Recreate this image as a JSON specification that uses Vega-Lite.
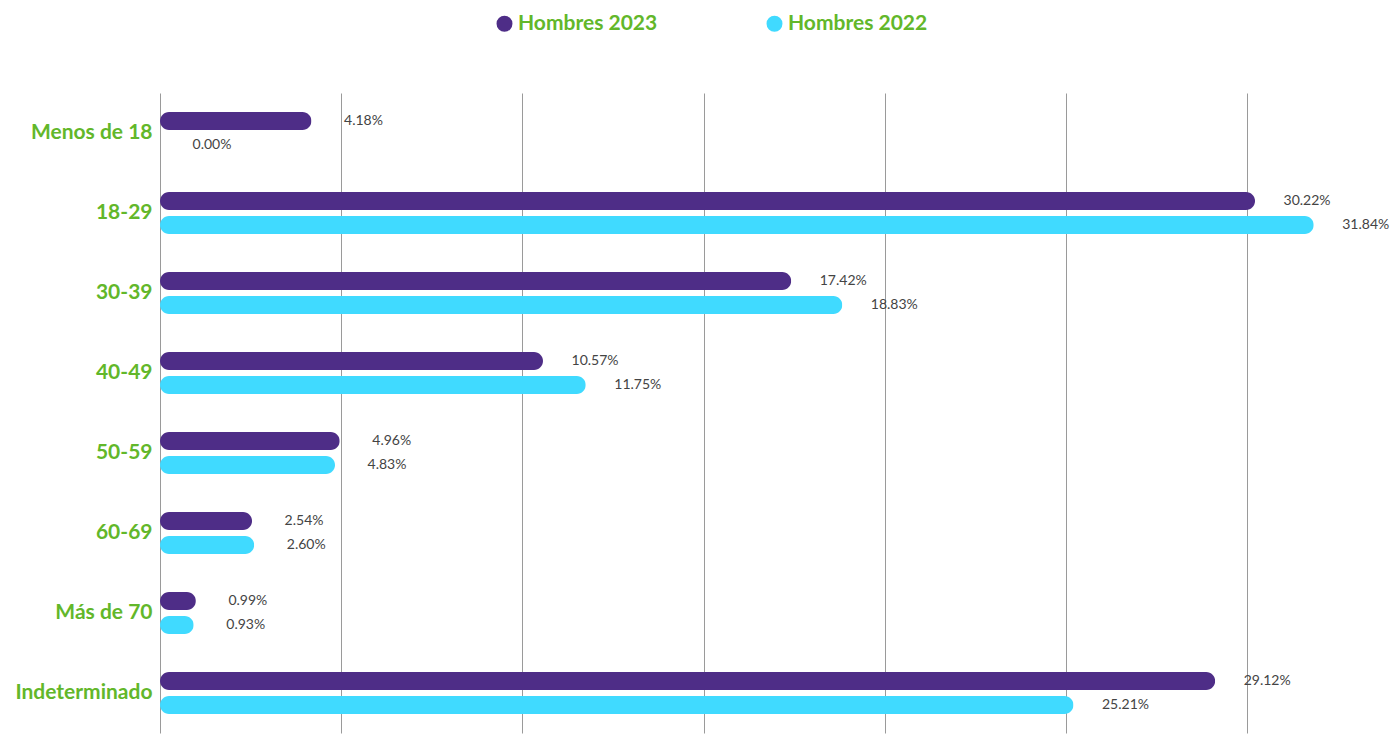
{
  "$schema": "https://vega.github.io/schema/vega-lite/v6.json",
  "width": 1232,
  "height": 640,
  "autosize": {"type": "none"},
  "padding": {"left": 160, "top": 93, "right": 1, "bottom": 7},
  "background": "white",
  "config": {"view": {"stroke": null}, "font": "Lato"},
  "data": {
    "values": [
      {"grupo": "Menos de 18", "serie": "Hombres 2023", "valor": 4.18},
      {"grupo": "Menos de 18", "serie": "Hombres 2022", "valor": 0.0},
      {"grupo": "18-29", "serie": "Hombres 2023", "valor": 30.22},
      {"grupo": "18-29", "serie": "Hombres 2022", "valor": 31.84},
      {"grupo": "30-39", "serie": "Hombres 2023", "valor": 17.42},
      {"grupo": "30-39", "serie": "Hombres 2022", "valor": 18.83},
      {"grupo": "40-49", "serie": "Hombres 2023", "valor": 10.57},
      {"grupo": "40-49", "serie": "Hombres 2022", "valor": 11.75},
      {"grupo": "50-59", "serie": "Hombres 2023", "valor": 4.96},
      {"grupo": "50-59", "serie": "Hombres 2022", "valor": 4.83},
      {"grupo": "60-69", "serie": "Hombres 2023", "valor": 2.54},
      {"grupo": "60-69", "serie": "Hombres 2022", "valor": 2.60},
      {"grupo": "Más de 70", "serie": "Hombres 2023", "valor": 0.99},
      {"grupo": "Más de 70", "serie": "Hombres 2022", "valor": 0.93},
      {"grupo": "Indeterminado", "serie": "Hombres 2023", "valor": 29.12},
      {"grupo": "Indeterminado", "serie": "Hombres 2022", "valor": 25.21}
    ]
  },
  "transform": [{"calculate": "format(datum.valor, '.2f') + '%'", "as": "etiqueta"}],
  "encoding": {
    "y": {
      "field": "grupo",
      "type": "nominal",
      "sort": ["Menos de 18", "18-29", "30-39", "40-49", "50-59", "60-69", "Más de 70", "Indeterminado"],
      "scale": {"paddingInner": 0.4, "paddingOuter": 0.2},
      "axis": {
        "title": null,
        "domain": false,
        "ticks": false,
        "labelFont": "Lato",
        "labelFontSize": 21,
        "labelFontWeight": "bold",
        "labelColor": "#62b72a",
        "labelPadding": 8
      }
    },
    "yOffset": {
      "field": "serie",
      "sort": ["Hombres 2023", "Hombres 2022"],
      "scale": {"paddingInner": 0.25, "paddingOuter": 0.125}
    },
    "x": {
      "field": "valor",
      "type": "quantitative",
      "scale": {"domain": [0, 34]},
      "axis": {
        "title": null,
        "values": [0, 5, 10, 15, 20, 25, 30],
        "labels": false,
        "ticks": false,
        "domain": false,
        "grid": true,
        "gridColor": "#9a9a9a",
        "gridWidth": 1
      }
    }
  },
  "layer": [
    {
      "mark": {"type": "bar", "cornerRadius": 9},
      "encoding": {
        "color": {
          "field": "serie",
          "type": "nominal",
          "scale": {"domain": ["Hombres 2023", "Hombres 2022"], "range": ["#4e2d87", "#40daff"]},
          "legend": {
            "orient": "none",
            "legendX": 334,
            "legendY": -80,
            "direction": "horizontal",
            "title": null,
            "symbolType": "circle",
            "symbolSize": 254,
            "symbolStrokeWidth": 0,
            "labelFont": "Lato",
            "labelFontSize": 21,
            "labelFontWeight": "bold",
            "labelColor": "#62b72a",
            "labelOffset": 3,
            "columnPadding": 106
          }
        }
      }
    },
    {
      "mark": {"type": "text", "align": "center", "baseline": "middle", "dx": 52, "fontSize": 14, "color": "#444444", "font": "Lato"},
      "encoding": {"text": {"field": "etiqueta"}}
    }
  ]
}
